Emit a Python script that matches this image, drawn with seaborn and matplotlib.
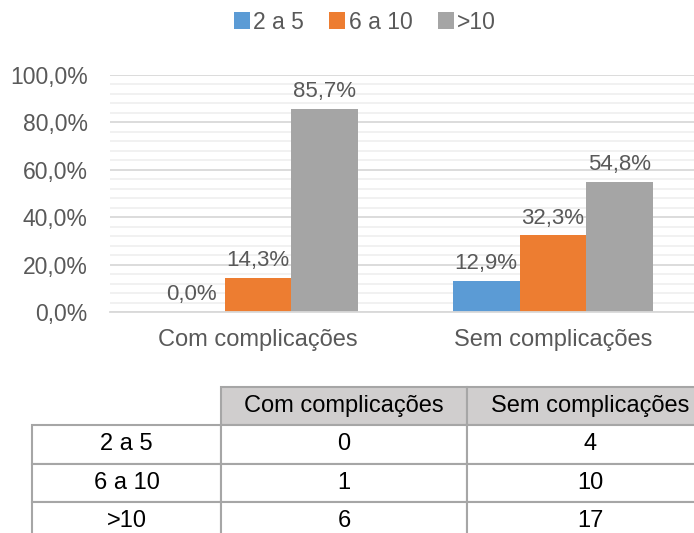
import pandas as pd
import seaborn as sns
import matplotlib.pyplot as plt
from matplotlib.ticker import MultipleLocator, FuncFormatter

# ------------------------------------------------------------------------------------------------ #
groups = ["Com complicações", "Sem complicações"]
ranges = ["2 a 5", "6 a 10", ">10"]
pct_com = [0.0, 14.3, 85.7]
pct_sem = [12.9, 32.3, 54.8]
count_com = [0, 1, 6]
count_sem = [4, 10, 17]
colors = ["#5b9bd5", "#ed7d31", "#a5a5a5"]
# ------------------------------------------------------------------------------------------------ #

df = pd.DataFrame(
    {
        "Grupo": [groups[0]] * 3 + [groups[1]] * 3,
        "Faixa": ranges * 2,
        "Percentual": pct_com + pct_sem,
    }
)

sns.set_theme(style="white")
plt.rcParams["font.family"] = ["Liberation Sans", "DejaVu Sans"]
text_color = "#595959"

W, H = 694, 533
fig = plt.figure(figsize=(W / 100, H / 100), dpi=100)
ax = fig.add_axes([110 / W, (H - 312) / H, 584 / W, 237 / H])

sns.barplot(
    data=df, x="Grupo", y="Percentual", hue="Faixa", order=groups, hue_order=ranges,
    palette=colors, width=0.68, gap=0, saturation=1, linewidth=0, ax=ax, legend=True,
)

ax.set_ylim(0, 100)
ax.set_xlim(-0.502, 1.478)
ax.yaxis.set_major_locator(MultipleLocator(20))
ax.yaxis.set_minor_locator(MultipleLocator(4))
ax.yaxis.set_major_formatter(FuncFormatter(lambda v, p: f"{v:.1f}%".replace(".", ",")))
ax.grid(axis="y", which="major", color="#d9d9d9", linewidth=1.3)
ax.grid(axis="y", which="minor", color="#f0f0f0", linewidth=1.3)
ax.set_axisbelow(True)
for s in ["top", "right", "left"]:
    ax.spines[s].set_visible(False)
ax.spines["bottom"].set_color("#d9d9d9")
ax.spines["bottom"].set_linewidth(1.3)
ax.tick_params(axis="y", length=0, pad=16, labelsize=16.5, labelcolor=text_color)
ax.tick_params(axis="x", length=0, pad=12, labelsize=17, labelcolor=text_color)
ax.set_xlabel("")
ax.set_ylabel("")

for cont in ax.containers:
    labels = [f"{b.get_height():.1f}%".replace(".", ",") for b in cont]
    ax.bar_label(cont, labels=labels, padding=5, fontsize=16, color=text_color)

handles, labs = ax.get_legend_handles_labels()
ax.legend_.remove()
fig.legend(
    handles, labs, loc="center", bbox_to_anchor=(365 / W, 1 - 22 / H), ncol=3, frameon=False,
    handlelength=0.7, handleheight=0.7, handletextpad=0.15, columnspacing=1.1,
    fontsize=16.5, labelcolor=text_color,
)

# table below the chart
tab_ax = fig.add_axes([32 / W, (H - 540) / H, 681 / W, 153 / H])
tab_ax.axis("off")
cell_text = [[""] + groups] + [[r, str(c), str(s)] for r, c, s in zip(ranges, count_com, count_sem)]
tbl = tab_ax.table(
    cellText=cell_text, cellLoc="center", bbox=[0, 0, 1, 1],
    colWidths=[189, 246, 246],
)
tbl.auto_set_font_size(False)
for (r, c), cell in tbl.get_celld().items():
    cell.set_edgecolor("#a6a6a6")
    cell.set_linewidth(1.5)
    cell.get_text().set_fontsize(17)
    cell.get_text().set_color("black")
    if r == 0 and c == 0:
        cell.visible_edges = ""
    elif r == 0:
        cell.set_facecolor("#d0cece")

fig.savefig("out.png", dpi=100)
